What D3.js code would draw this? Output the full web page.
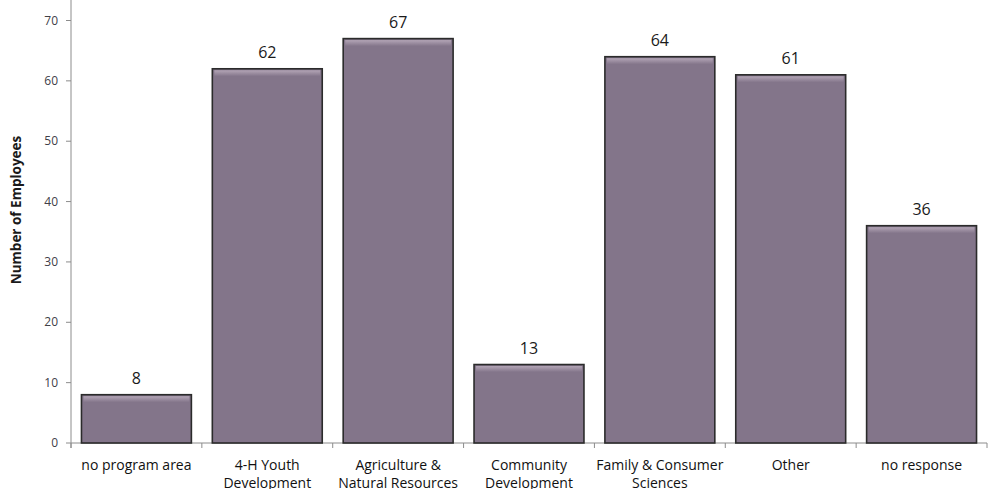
<!DOCTYPE html>
<html>
<head>
<meta charset="utf-8">
<script src="https://cdn.jsdelivr.net/npm/d3@7"></script>
<style>
  html, body { margin: 0; padding: 0; background: #fff; }
  svg { display: block; font-family: "Open Sans", "Lato", sans-serif; }
</style>
</head>
<body>
<svg id="chart" width="992" height="489"></svg>
<script>
// Employees by program area
const categories = [
  ["no program area"],
  ["4-H Youth", "Development"],
  ["Agriculture &", "Natural Resources"],
  ["Community", "Development"],
  ["Family & Consumer", "Sciences"],
  ["Other"],
  ["no response"]
];
const values = [8, 62, 67, 13, 64, 61, 36];
const yTicks = [0, 10, 20, 30, 40, 50, 60, 70];
const yTitle = "Number of Employees";

const svg = d3.select("#chart");
const x0 = 71, x1 = 987, yBase = 443;

const x = d3.scaleBand()
  .domain(d3.range(values.length))
  .range([x0, x1])
  .paddingInner(0.16)
  .paddingOuter(0.08);

const y = d3.scaleLinear().domain([0, 70]).range([yBase, 20.5]);

// bar gradient: soft highlight along the top edge
const defs = svg.append("defs");
const grad = defs.append("linearGradient")
  .attr("id", "topShine").attr("x1", 0).attr("x2", 0).attr("y1", 0).attr("y2", 1);
grad.append("stop").attr("offset", "0%").attr("stop-color", "#b3a5b6");
grad.append("stop").attr("offset", "100%").attr("stop-color", "#83758a");

// axes
const axisColor = "#8c8c8c";
svg.append("line")
  .attr("x1", x0).attr("x2", x0).attr("y1", 0).attr("y2", yBase + 5)
  .attr("stroke", axisColor).attr("stroke-width", 1);
svg.append("line")
  .attr("x1", x0).attr("x2", x1).attr("y1", yBase).attr("y2", yBase)
  .attr("stroke", axisColor).attr("stroke-width", 1);

// y ticks and labels
const yAxis = svg.append("g");
yTicks.forEach(t => {
  yAxis.append("line")
    .attr("x1", x0 - 5).attr("x2", x0).attr("y1", y(t)).attr("y2", y(t))
    .attr("stroke", axisColor);
  yAxis.append("text")
    .attr("x", x0 - 13).attr("y", y(t)).attr("dy", "0.35em")
    .attr("text-anchor", "end")
    .attr("font-size", 12).attr("fill", "#404048")
    .text(t);
});

// x category boundary ticks
d3.range(values.length + 1).forEach(i => {
  const xp = x0 + i * (x1 - x0) / values.length;
  svg.append("line")
    .attr("x1", xp).attr("x2", xp).attr("y1", yBase).attr("y2", yBase + 5)
    .attr("stroke", axisColor);
});

// bars
const bars = svg.append("g").selectAll("g").data(values).join("g");
bars.append("rect")
  .attr("x", (d, i) => x(i))
  .attr("y", d => y(d))
  .attr("width", x.bandwidth())
  .attr("height", d => yBase - y(d))
  .attr("fill", "#83758a")
  .attr("stroke", "#2b2b2b")
  .attr("stroke-width", 1.6);
bars.append("rect")
  .attr("x", (d, i) => x(i) + 2)
  .attr("y", d => y(d) + 1.5)
  .attr("width", x.bandwidth() - 4)
  .attr("height", 6)
  .attr("fill", "url(#topShine)");

// value labels
svg.append("g").selectAll("text").data(values).join("text")
  .attr("x", (d, i) => x(i) + x.bandwidth() / 2)
  .attr("y", d => y(d) - 11)
  .attr("text-anchor", "middle")
  .attr("font-size", 16).attr("fill", "#1a1a1a")
  .text(d => d);

// category labels
const cat = svg.append("g").selectAll("text").data(categories).join("text")
  .attr("x", (d, i) => x(i) + x.bandwidth() / 2)
  .attr("y", 470)
  .attr("text-anchor", "middle")
  .attr("font-size", 14).attr("fill", "#111");
cat.each(function (lines, i) {
  const t = d3.select(this);
  lines.forEach((ln, k) => {
    t.append("tspan")
      .attr("x", x(i) + x.bandwidth() / 2)
      .attr("dy", k === 0 ? 0 : 18)
      .text(ln);
  });
});

// y axis title
svg.append("text")
  .attr("transform", "translate(21, 210) rotate(-90)")
  .attr("text-anchor", "middle")
  .attr("font-size", 13.5).attr("font-weight", "bold").attr("fill", "#1a1a1a")
  .text(yTitle);
</script>
</body>
</html>
